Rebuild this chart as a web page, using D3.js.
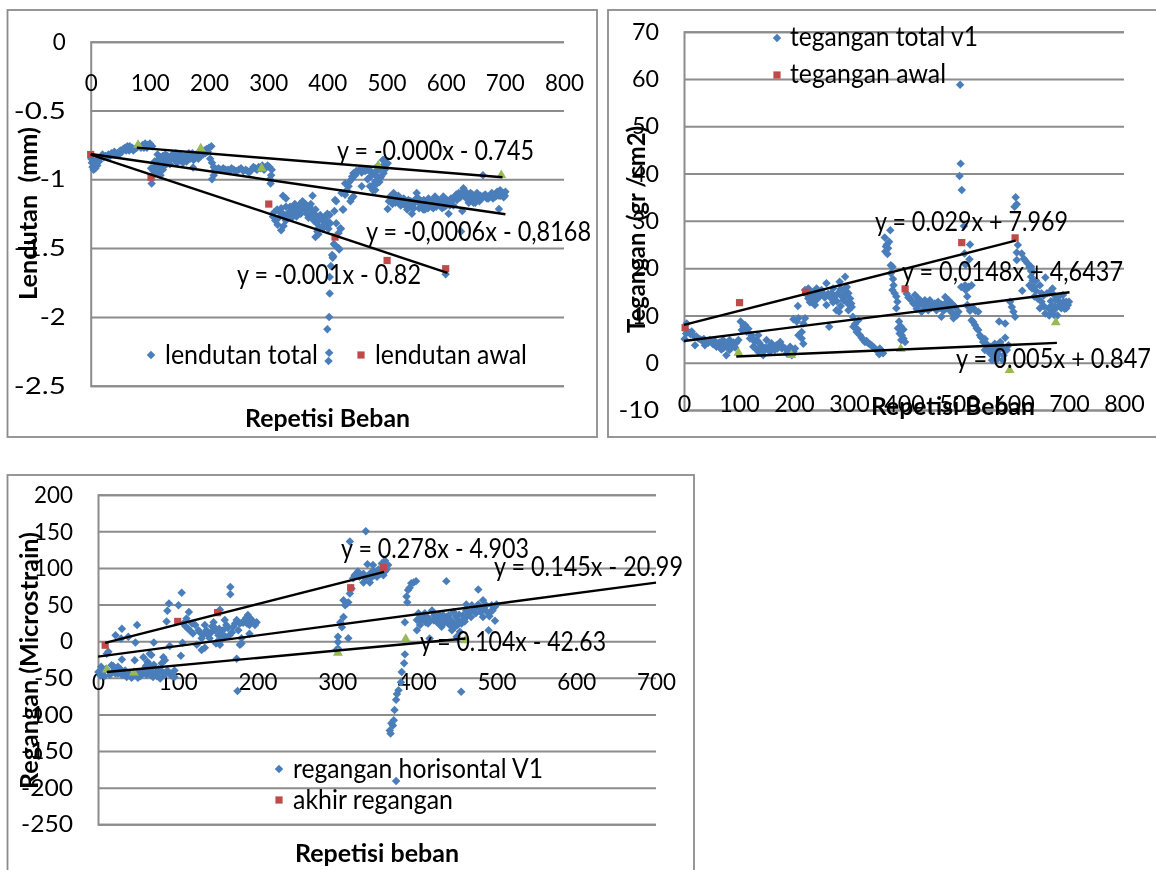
<!DOCTYPE html>
<html>
<head>
<meta charset="utf-8">
<script src="https://cdn.jsdelivr.net/npm/d3@7"></script>
<style>
  body { margin: 0; background: #fff; }
  svg { filter: blur(0.4px); }
  text { font-family: Lato, "Open Sans", sans-serif; fill: #000; }
  .tick text { font-size: 24px; }
</style>
</head>
<body>
<div id="chart"></div>
<script>
// values, [repetisi, nilai]
const lendutanTotal = [[1,-.85],[2,-.88],[3,-.91],[5,-.93],[8,-.92],[11,-.9],[14,-.87],[17,-.84],[20,-.82],[25,-.83],[30,-.82],[35,-.81],[40,-.8],[45,-.81],[50,-.79],[55,-.78],[58,-.77],[62,-.76],[66,-.76],[70,-.77],[74,-.78],[78,-.77],[82,-.76],[85,-.77],[88,-.75],[92,-.74],[96,-.75],[100,-.74],[104,-.76],
  [6,-.88],[10,-.86],[22,-.84],[28,-.84],[33,-.83],[38,-.82],[43,-.82],[48,-.82],[53,-.8],[60,-.79],[65,-.79],[72,-.79],[90,-.77],[95,-.77],
  [103,-1.03],[104,-.98],[106,-.94],[102,-.92],[110,-.9],[112,-.95],[118,-.97],[122,-.93],[125,-.9],[120,-.88],[115,-.85],[113,-.82],[118,-.84],[122,-.83],[128,-.85],[132,-.87],[136,-.85],[140,-.83],[144,-.81],[148,-.84],[152,-.86],[156,-.88],[160,-.85],[164,-.83],[168,-.85],[172,-.81],[176,-.84],[180,-.83],[184,-.81],[188,-.8],[192,-.79],[196,-.78],[200,-.77],[204,-.76],[198,-.8],[173,-.915],
  [108,-.87],[116,-.9],[124,-.87],[126,-.82],[130,-.83],[134,-.89],[138,-.82],[142,-.86],[146,-.88],[150,-.82],[154,-.83],[158,-.83],[162,-.87],[166,-.81],[170,-.83],[174,-.86],[178,-.82],[182,-.85],[186,-.83],[190,-.82],[194,-.81],[117,-.93],[128,-.89],[112,-.88],
  [202,-.85],[205,-.88],[208,-.91],[210,-.93],[205,-1],[208,-.97],[213,-.93],[220,-.93],[228,-.93],[235,-.94],[242,-.93],[250,-.93],[258,-.94],[265,-.94],[272,-.93],[278,-.92],[284,-.91],[290,-.9],[296,-.91],[302,-.91],[306,-.93],[305,-.97],[303,-1],[304,-1.03],
  [216,-.92],[224,-.92],[232,-.93],[238,-.92],[246,-.94],[254,-.92],[262,-.93],[268,-.95],[275,-.91],[281,-.93],[287,-.92],[293,-.93],[299,-.9],
  [325,-1.12],[330,-1.14],[308,-1.27],[312,-1.3],[316,-1.33],[322,-1.37],[326,-1.34],[330,-1.3],[320,-1.24],[315,-1.22],[325,-1.25],[330,-1.2],[335,-1.24],[340,-1.22],[345,-1.18],[350,-1.2],[355,-1.25],[348,-1.27],[340,-1.28],[358,-1.16],[362,-1.22],[365,-1.25],[370,-1.2],[375,-1.23],[372,-1.18],[380,-1.28],[375,-1.12],[380,-1.22],[385,-1.3],[388,-1.26],[392,-1.3],[396,-1.27],[400,-1.25],[404,-1.26],[398,-1.34],[402,-1.36],[405,-1.32],[390,-1.35],[385,-1.4],[380,-1.42],[383,-1.38],
  [310,-1.24],[318,-1.28],[322,-1.21],[328,-1.28],[333,-1.27],[337,-1.2],[342,-1.25],[344,-1.21],[347,-1.23],[352,-1.23],[354,-1.18],[357,-1.21],[360,-1.19],[363,-1.18],[367,-1.21],[368,-1.28],[372,-1.26],[377,-1.3],[382,-1.32],[386,-1.35],[392,-1.36],[395,-1.33],[399,-1.3],[378,-1.25],
  [404,-1.83],[403,-2],[400,-2.09],[403,-2.26],[402,-2.32],[404,-1.71],[406,-1.63],[410,-1.56],[409,-1.57],[408,-1.55],[411,-1.47],[419,-1.5],[420,-1.51],[413,-1.48],[423,-1.36],[415,-1.32],[422,-1.355],[419,-1.39],[412,-1.23],[426,-1.22],[427,-1.22],[415,-1.16],[413,-1.15],
  [424,-1.1],[430,-1.113],[439,-1.16],[441,-1.137],[444,-1.125],[436,-1.05],[430,-1.03],[441,-1],[442,-.98],[444,-.956],[452,-.94],[455,-.932],[461,-.93],[467,-.932],[471,-.93],[475,-.956],[477,-.96],[458,-1.05],[468,-1],[477,-1.08],[481,-1.077],[481,-1.016],[484,-1.03],[484,-.98],[484,-.908],[489,-.992],[491,-.98],[495,-.956],[497,-.93],[495,-.859],[494,-.86],[500,-.88],[502,-.883],
  [433,-1.08],[437,-1.02],[447,-.97],[449,-.94],[458,-.95],[464,-.94],[473,-.98],[480,-.95],[487,-.93],[492,-.91],[498,-.9],[488,-1.02],[478,-1.04],[472,-1.05],
  [502,-1.215],[506,-1.125],[509,-1.15],[512,-1.1],[514,-1.13],[517,-1.14],[515,-1.17],[520,-1.12],[523,-1.16],[526,-1.18],[529,-1.14],[533,-1.17],[537,-1.15],[532,-1.19],[540,-1.2],[543,-1.25],[545,-1.18],[548,-1.17],[551,-1.1],[554,-1.14],[557,-1.18],[560,-1.2],[563,-1.15],[565,-1.22],[568,-1.18],[571,-1.14],[574,-1.19],[577,-1.16],[579,-1.21],[582,-1.125],[585,-1.18],[588,-1.15],[591,-1.19],[594,-1.21],[596,-1.125],[599,-1.18],[602,-1.15],[605,-1.25],[607,-1.19],[610,-1.16],[613,-1.19],[616,-1.125],[619,-1.15],[622,-1.1],[625,-1.13],[628,-1.23],[630,-1.065],[633,-1.12],[636,-1.1],[639,-1.17],[642,-1.1],[644,-1.14],[647,-1.17],[650,-1.17],[653,-1.1],[657,-1.16],[661,-1.14],[664,-1.12],[667,-1.11],[670,-1.14],[672,-1.14],[675,-1.12],[678,-1.1],[681,-1.12],[684,-1.125],[687,-1.09],[690,-1.215],[692,-1.08],[695,-1.11],[698,-1.13],[701,-1.09],
  [504,-1.16],[510,-1.18],[518,-1.16],[524,-1.19],[530,-1.18],[535,-1.22],[541,-1.16],[546,-1.21],[550,-1.14],[555,-1.21],[559,-1.16],[562,-1.22],[566,-1.17],[570,-1.21],[573,-1.16],[576,-1.2],[581,-1.18],[584,-1.2],[590,-1.17],[593,-1.16],[598,-1.2],[601,-1.19],[604,-1.17],[609,-1.14],[612,-1.14],[618,-1.11],[621,-1.13],[626,-1.1],[632,-1.09],[635,-1.14],[638,-1.12],[641,-1.15],[645,-1.11],[648,-1.13],[652,-1.15],[655,-1.12],[659,-1.12],[668,-1.13],[674,-1.13],[680,-1.14],[686,-1.12],[690,-1.12],[693,-1.12],[697,-1.1],[700,-1.12],
  [663,-.97],[626,-1.38],[600,-1.69]];
const lendutanAwal = [[0,-.82],[102,-.985],[301,-1.18],[413,-1.42],[501,-1.59],[600,-1.65]];
const lendutanAkhir = [[80,-.75],[186,-.775],[289,-.92],[486,-.9],[694,-.97]];
const lendutanTrend = [
  [[78,-.77],[696,-.985]],
  [[0,-.816],[701,-1.254]],
  [[0,-.82],[603,-1.68]]];

const teganganTotal = [[5,8.3],[1,5],[8,6.5],[17,5.8],[26,5.1],[20,3.7],[38,3.7],[33,4.7],[50,4.4],[59,3.4],[71,4.8],[83,4.8],[99,4.8],[77,1.6],[83,2.7],[93,3.2],[68,2.8],[12,6],[44,4.2],[64,4.3],[90,4.3],[78,3.7],
  [4,6.2],[14,6.6],[22,5.6],[30,4.9],[36,5],[41,4.4],[47,4.8],[53,3.9],[56,4.6],[62,3.7],[66,3.9],[74,3.9],[80,4],[86,3.8],[95,4.2],[88,3.5],[72,3.1],
  [103,8.7],[111,8],[105,6.9],[117,7.2],[123,5.8],[135,5.8],[120,5.1],[129,4.4],[126,3.4],[135,2.3],[144,1.6],[150,4.8],[159,4.1],[168,3.7],[175,4.4],[153,3],[165,2.7],[180,3.4],[193,3.4],[202,3],[196,1.6],[187,2],[140,3.7],[148,3.2],
  [108,7.7],[114,6.6],[126,5],[132,4.8],[130,3],[138,3.1],[142,2.7],[146,2.6],[155,3.5],[162,3.2],[170,3],[178,3],[184,3],[190,2.6],[199,2.4],[156,2.3],[137,4.2],
  [199,9.2],[208,9.4],[220,9.4],[205,8.7],[217,8.3],[264,7.6],[214,6.5],[208,5.8],[214,5.1],[217,4],[207,12],
  [220,15.4],[226,15.7],[232,14.7],[241,15.7],[226,13.6],[238,12.2],[247,14],[259,16.8],[259,12.2],[262,14.6],[271,15.7],[274,14],[277,11.1],[282,10.8],[283,17.1],[293,18.2],[296,16],[290,15.4],[299,14.7],[290,13.2],[302,13.6],[305,11.8],[299,11.1],[280,14.7],[266,13.8],[253,14.7],[235,13.7],
  [223,14.5],[229,14.4],[235,15],[238,14.4],[244,14.6],[229,12.8],[233,12.8],[250,15.4],[256,13.8],[268,14.7],[278,13],[285,15.6],[287,14],[294,14.3],[297,12.6],[304,12.5],[285,12],[271,12.8],[240,13.2],
  [307,9.7],[317,9],[308,7.6],[314,6.5],[320,5.8],[326,4.8],[335,4.1],[341,3.7],[347,3],[353,2.3],[355,1.8],[356,3],[362,2],[359,2.6],
  [311,8.2],[316,7],[323,5.3],[329,4.4],[332,4.6],[338,3.9],[344,3.3],[350,2.7],
  [375,28],[365,26.5],[373,25.6],[366,23.5],[371,24.2],[376,20.6],[379,20.3],[376,18.9],[381,16.4],[379,15.4],[383,14.7],[386,14],[388,12.9],[386,11.5],[391,8.7],[389,7.3],[399,7],[392,6.2],[399,5.1],[402,4.4],
  [369,25],[367,24.6],[370,23],[394,7.7],[396,5.8],[395,4.8],[380,17.7],
  [405,14.6],[411,13.6],[417,12.5],[420,14.3],[429,13.2],[435,12.2],[432,10.8],[447,13.2],[453,12.2],[444,11.1],[462,12.9],[468,9.7],[475,13.9],[481,13.2],[487,12.5],[478,11.5],[493,11.8],[496,10],[499,10.8],[490,9.4],[459,11.1],[471,12.2],[484,11],[438,13.2],[426,12],[450,11.6],
  [408,13.8],[414,13.1],[423,12.9],[426,13.6],[432,12.8],[441,12.5],[444,12.8],[456,12.5],[459,12.5],[465,11.6],[468,12.3],[472,11],[477,12.8],[481,11.8],[484,12.6],[490,12.1],[487,10.6],[493,10.2],[438,11.4],[447,11.5],[423,11.4],
  [517,16],[511,16.4],[523,16.4],[502,58.8],[503,42.1],[501,39.5],[505,36.5],[509,28.9],[520,25],[510,23.1],[519,21.9],[512,20.7],[518,16],[504,16],[512,15.4],[515,14],[515,12.2],
  [517,11.8],[526,11.5],[535,10.8],[523,9],[529,8],[535,6.9],[538,5.8],[547,5],[550,4],[547,2.7],[556,2],[565,4],[575,4.4],[584,5.3],[562,1.3],[575,3],[581,1.6],[587,2.7],[590,3.7],[553,3.2],[568,2.6],[579,0.6],
  [520,11],[530,11],[526,8.6],[532,7.3],[540,5.4],[544,4.4],[552,3],[558,3.4],[560,2.6],[564,2.2],[570,3.4],[572,1.8],[578,3.6],[583,2.6],[570,0.8],[560,0.5],
  [573,8.7],[584,8.3],[593,12.9],[596,11.8],[599,10.8],[602,9.7],
  [603,35],[605,33.5],[601,33],[607,24.9],[605,23.3],[614,23.1],[605,21.7],[618,22],[625,21],[631,20.3],[634,19.2],[657,18],[628,16.4],[637,16],[647,16.4],[615,15.2],[637,14],[650,14.7],[670,15.7],[660,14.7],[650,12.9],[663,11.5],[657,10.4],[673,10.1],[667,13],[679,13.2],[686,12.5],[695,12.9],[700,12.9],[695,11.5],[686,11.5],[676,11.5],[670,11],[679,10],[689,14.3],[647,11.5],[631,18.2],[640,17.4],
  [621,21.5],[628,20.2],[631,19.4],[634,17.4],[640,15.2],[633,15.7],[643,13.6],[654,14.2],[664,14.8],[672,14.4],[676,13.4],[682,14],[690,12.9],[692,11.4],[683,12],[664,10],[668,12],[674,12],[698,12.2],[655,11.9]];
const teganganAwal = [[2,7.4],[101,12.7],[221,14.9],[402,15.6],[505,25.4],[602,26.4]];
const teganganAkhir = [[99,2.1],[195,1.6],[394,2.9],[592,-1.6],[676,8.5]];
const teganganTrend = [
  [[0,8],[603,25.8]],
  [[0,4.6],[701,14.9]],
  [[95,1.3],[678,4.2]]];

const reganganTotal = [[166,74],[166,64],[105,66],[89,51.5],[101,49],[87,41.5],[86,27],[114,40],[153,43],[49,22],[30,17],[22,8],[38,6],[29,3.7],[47,-1.7],[70,-1.7],[13,-14.5],[11,-17],[90,-6.7],[106,-2],[104,-20],[82,-22],[84,-26],[80,-30],[65,-17],[67,-19],[57,-22],[46,-26],[63,-30],[30,-25],[17,-33],[25,-35],[34,-40],[4,-35],[0.5,-42],[5,-44],[15,-46],[25,-44],[36,-49],[42,-50],[53,-48],[61,-46],[69,-49],[78,-51],[84,-46],[90,-44],[96,-40],[96,-49],[175,-68],[10,-38],[20,-40],[30,-46],[48,-42],[56,-44],[72,-43],[76,-38],
  [3,-47],[8,-48],[19,-34],[22,-44],[28,-38],[33,-45],[39,-44],[44,-48],[50,-50],[58,-38],[60,-34],[65,-40],[66,-46],[74,-48],[81,-42],[87,-40],[92,-47],[62,-28],[70,-32],[75,-44],[52,-42],[68,-36],
  [107,24],[113,17],[119,10.5],[122,22],[126,15],[130,-12],[124,-5],[134,-9],[130,4],[136,15],[138,8],[145,20],[145,26],[149,-1],[153,-5],[151,8],[157,15],[161,22],[165,8],[170,20],[174,29],[176,15],[180,-3],[180,4],[178,-5],[188,35.6],[193,29],[197,22],[190,22],[184,29],[190,10],[111,31],[174,-24],[134,22],[159,29],[140,4],[147,15],
  [110,20],[116,14],[118,24],[128,12],[132,9],[142,12],[148,-3],[152,17],[155,10],[160,6],[163,18],[168,12],[172,24],[178,24],[182,25],[186,32],[190,32],[195,25],[199,26],[187,24],[155,2],[143,20],
  [316,136],[338,105],[360,110],[364,104],[358,90],[347,90],[341,80],[333,80],[324,92],[320,86],[333,92],[341,92],[349,95],[356,106],[336,150],[352,98],[328,88],
  [326,95],[330,90],[336,86],[343,87],[345,96],[350,88],[354,92],[360,95],[362,98],[322,90],[345,104],
  [318,72],[316,65],[308,56],[312,51],[314,53],[310,49],[308,33],[304,26],[306,19],[301,6],[314,4],[301,-1],[301,-10],[299,-12],
  [437,82],[477,70.6],[399,82],[393,79],[389,70],[387,61],[388,53],[385,26],[396,80],[391,73],
  [402,38],[400,29],[408,31],[419,42],[414,24],[400,15],[404,22],[425,31],[433,35.5],[431,19.6],[416,3.7],[439,28.7],[446,40],[448,19.6],[452,28.7],[458,35.5],[454,13],[462,42],[469,49],[462,50],[475,47],[483,56],[487,49],[494,49],[498,47],[490,15],[498,28],[483,33],[492,40],[479,45],[460,27],[441,22],[444,15],[450,6],[421,28.7],[429,30],[404,29],[410,38],[455.6,-69],
  [406,34],[411,26],[413,33],[417,29],[422,35],[426,25],[428,36],[435,26],[437,33],[440,35],[443,28],[446,24],[449,33],[451,22],[453,36],[456,24],[459,30],[463,34],[466,40],[468,33],[471,42],[474,38],[477,50],[480,40],[484,44],[488,40],[491,34],[495,42],[500,50],
  [385,-18],[384,-30],[381,-42],[380,-56],[377,-67],[374,-80],[372,-94],[371,-108],[368,-112],[366,-122],[367,-126],[374,-191],[375,-72],[370,-115]];
const reganganAkhir = [[9,-5.5],[100,27],[150,39],[317,73],[358,100.6]];
const reganganAwal = [[11,-39],[45,-43],[301,-16],[386,3],[461,1]];
const reganganTrend = [
  [[9,-2.3],[359,94.7]],
  [[0,-21],[700,80]],
  [[11,-42],[461,3.6]]];

const xTicks800 = [0, 100, 200, 300, 400, 500, 600, 700, 800];
const xTicks700 = [0, 100, 200, 300, 400, 500, 600, 700];
const lendutanTicks = [0, -0.5, -1, -1.5, -2, -2.5];
const teganganTicks = [70, 60, 50, 40, 30, 20, 10, 0, -10];
const reganganTicks = [200, 150, 100, 50, 0, -50, -100, -150, -200, -250];

const blue = "#4a7ebb", red = "#be4b48", green = "#98b954", grey = "#8c8c8c";

const svg = d3.select("#chart").append("svg")
  .attr("width", 1156).attr("height", 870);

// text stretched to the width it has in the picture
function label(txt, x, y, w, size, opts) {
  opts = opts || {};
  const t = svg.append("text")
    .attr("x", x).attr("y", y)
    .attr("dy", "0.35em")
    .attr("font-size", size)
    .attr("font-weight", opts.bold ? 700 : 400)
    .attr("textLength", w)
    .attr("lengthAdjust", "spacingAndGlyphs")
    .attr("xml:space", "preserve")
    .text(txt);
  if (opts.rotate) t.attr("transform", "rotate(-90 " + x + " " + y + ")");
  return t;
}

function drawPoints(g, x, y, data, kind) {
  const sym = {
    total: d3.symbol().type(d3.symbolSquare).size(36)(),
    awal: d3.symbol().type(d3.symbolSquare).size(52)(),
    akhir: d3.symbol().type(d3.symbolTriangle).size(42)()
  };
  g.selectAll(".p-" + kind)
    .data(data)
    .enter().append("path")
    .attr("class", "p-" + kind)
    .attr("d", sym[kind])
    .attr("fill", kind === "total" ? blue : kind === "awal" ? red : green)
    .attr("transform", d => "translate(" + x(d[0]) + "," + y(d[1]) + ")" + (kind === "total" ? " rotate(45)" : ""));
}

function drawChart(c) {
  svg.append("rect")
    .attr("x", c.frame[0]).attr("y", c.frame[1])
    .attr("width", c.frame[2] - c.frame[0]).attr("height", c.frame[3] - c.frame[1])
    .attr("fill", "none").attr("stroke", grey).attr("stroke-width", 1.8);

  const x = d3.scaleLinear().domain(c.xDomain).range(c.xRange);
  const y = d3.scaleLinear().domain(c.yDomain).range(c.yRange);
  const g = svg.append("g");

  const yAxis = g.append("g")
    .attr("transform", "translate(" + c.xRange[0] + ",0)")
    .call(d3.axisLeft(y).tickValues(c.yTicks).tickFormat(d => String(d))
      .tickSize(-(c.xRange[1] - c.xRange[0])).tickPadding(25));
  yAxis.selectAll("line").attr("stroke", grey).attr("stroke-width", 2);
  yAxis.select(".domain").attr("stroke", grey).attr("stroke-width", 2);

  const xAxis = g.append("g")
    .attr("transform", "translate(0," + y(0) + ")")
    .call(d3.axisBottom(x).tickValues(c.xTicks).tickFormat(d => String(d))
      .tickSize(0).tickPadding(c.xPad));
  xAxis.select(".domain").remove();

  g.selectAll(".tick text").attr("fill", "#000").attr("font-family", null).attr("font-size", null);
  g.selectAll(".tick text")
    .attr("textLength", function (d) { return this.textContent.length * c.digit; })
    .attr("lengthAdjust", "spacingAndGlyphs");

  drawPoints(g, x, y, c.total, "total");
  drawPoints(g, x, y, c.awal, "awal");
  drawPoints(g, x, y, c.akhir, "akhir");

  const line = d3.line().x(d => x(d[0])).y(d => y(d[1]));
  g.selectAll(".trend")
    .data(c.trend)
    .enter().append("path")
    .attr("class", "trend")
    .attr("d", line)
    .attr("fill", "none").attr("stroke", "#000").attr("stroke-width", 2.4);
}

drawChart({
  frame: [7.5, 10, 597, 437],
  xDomain: [0, 800], xRange: [90.7, 564],
  yDomain: [0, -2.5], yRange: [41.7, 385.7],
  xTicks: xTicks800, yTicks: lendutanTicks, xPad: 32, digit: 13,
  total: lendutanTotal, awal: lendutanAwal, akhir: lendutanAkhir, trend: lendutanTrend
});
drawChart({
  frame: [608, 10, 1160, 437],
  xDomain: [0, 800], xRange: [684, 1124],
  yDomain: [70, -10], yRange: [31.7, 410],
  xTicks: xTicks800, yTicks: teganganTicks, xPad: 32, digit: 13.5,
  total: teganganTotal, awal: teganganAwal, akhir: teganganAkhir, trend: teganganTrend
});
drawChart({
  frame: [7.5, 475, 694, 875],
  xDomain: [0, 700], xRange: [98, 656],
  yDomain: [200, -250], yRange: [494.7, 824.3],
  xTicks: xTicks700, yTicks: reganganTicks, xPad: 32, digit: 13,
  total: reganganTotal, awal: reganganAkhir, akhir: reganganAwal, trend: reganganTrend
});

// legend marks
function legendMark(px, py, kind) {
  const p = svg.append("path").attr("fill", kind === "total" ? blue : red);
  p.attr("d", d3.symbol().type(d3.symbolSquare).size(kind === "total" ? 36 : 52)())
    .attr("transform", "translate(" + px + "," + py + ")" + (kind === "total" ? " rotate(45)" : ""));
}
legendMark(151, 355, "total"); legendMark(361, 355, "awal");
legendMark(777, 38, "total"); legendMark(777, 75, "awal");
legendMark(279, 769, "total"); legendMark(279, 800, "awal");

label("lendutan total", 165, 355, 153, 26);
label("lendutan awal", 375, 355, 152, 26);
label("tegangan total v1", 790, 37, 188, 26);
label("tegangan awal", 790, 74, 156, 26);
label("regangan horisontal V1", 293, 769, 250, 26);
label("akhir regangan", 293, 800, 160, 26);

label("y = -0.000x - 0.745", 337, 151, 197, 26);
label("y = -0,0006x - 0,8168", 366, 232, 225, 26);
label("y = -0.001x - 0.82", 237, 275, 184, 26);
label("y = 0.029x + 7.969", 875, 222, 193, 26);
label("y = 0,0148x + 4,6437", 902, 272, 221, 26);
label("y = 0.005x + 0.847", 956, 359, 195, 26);
label("y = 0.278x - 4.903", 341, 549, 188, 26);
label("y = 0.145x - 20.99", 494, 567, 189, 26);
label("y = 0.104x - 42.63", 420, 642, 186, 26);

label("Lendutan  (mm)", 29, 300, 173, 24, {bold: true, rotate: true});
label("Repetisi Beban", 245, 419, 165, 24, {bold: true});
label("Tegangan  (gr /cm2)", 637, 333, 207, 24, {bold: true, rotate: true});
label("Repetisi Beban", 871, 407, 164, 24, {bold: true});
label("Regangan (Microstrain)", 30, 789, 257, 24, {bold: true, rotate: true});
label("Repetisi beban", 295, 854, 164, 24, {bold: true});
</script>
</body>
</html>
